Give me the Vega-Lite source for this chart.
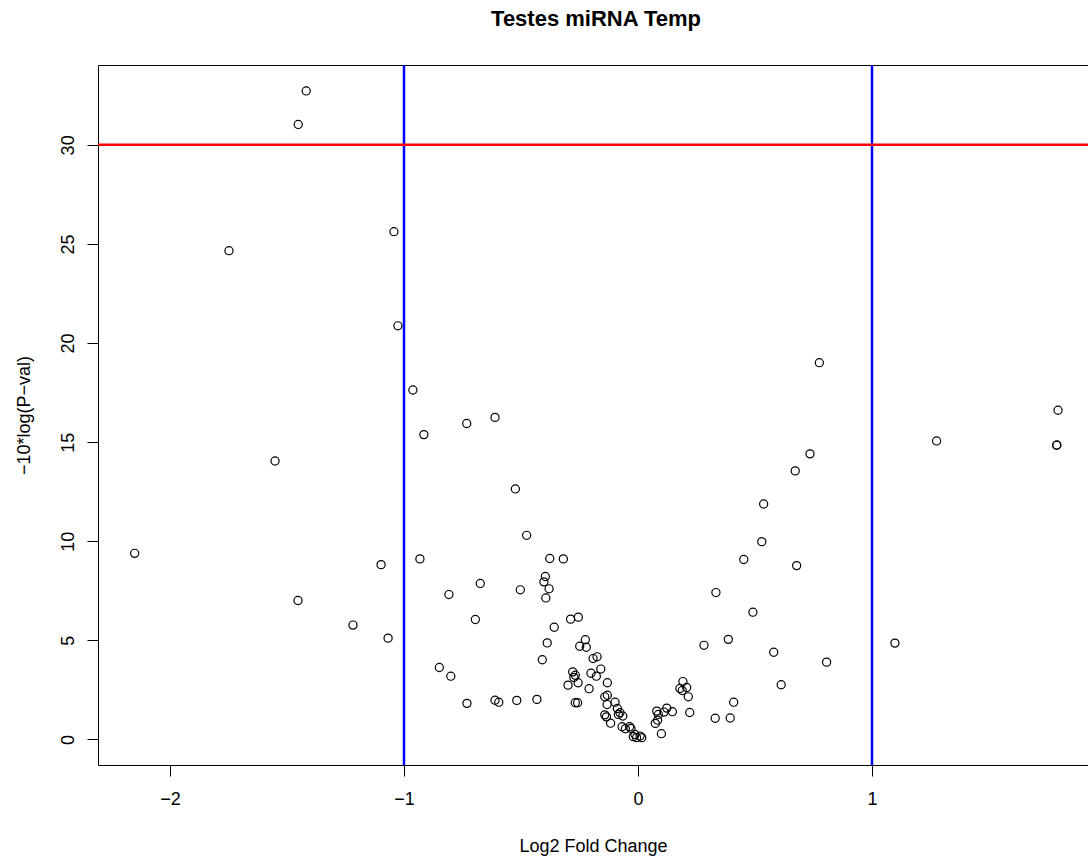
{
  "$schema": "https://vega.github.io/schema/vega-lite/v6.json",
  "autosize": "none",
  "width": 990,
  "height": 700,
  "padding": {"left": 98, "top": 65, "right": 0, "bottom": 96},
  "background": "white",
  "view": {"stroke": null},
  "title": {
    "text": "Testes miRNA Temp",
    "font": "Liberation Sans",
    "fontSize": 22,
    "fontWeight": "bold",
    "color": "black",
    "anchor": "middle",
    "dx": 3,
    "offset": 33
  },
  "config": {
    "axis": {
      "labelFont": "Liberation Sans",
      "titleFont": "Liberation Sans",
      "labelFontSize": 18,
      "titleFontSize": 18,
      "titleFontWeight": "normal",
      "labelColor": "black",
      "titleColor": "black",
      "domainColor": "black",
      "tickColor": "black",
      "domainWidth": 1,
      "tickWidth": 1,
      "grid": false
    }
  },
  "resolve": {"axis": {"x": "independent"}},
  "layer": [
    {
      "data": {
        "values": [
          {"lfc": -1.418, "nlp": 32.72}, {"lfc": -1.452, "nlp": 31.03}, {"lfc": -1.748, "nlp": 24.66},
          {"lfc": -1.043, "nlp": 25.62}, {"lfc": -1.026, "nlp": 20.87}, {"lfc": -0.962, "nlp": 17.63},
          {"lfc": -0.915, "nlp": 15.38}, {"lfc": -1.551, "nlp": 14.05}, {"lfc": -2.151, "nlp": 9.39},
          {"lfc": -1.098, "nlp": 8.82}, {"lfc": -1.453, "nlp": 7.01}, {"lfc": -1.218, "nlp": 5.77},
          {"lfc": -1.068, "nlp": 5.11}, {"lfc": -0.932, "nlp": 9.11}, {"lfc": -0.732, "nlp": 15.94},
          {"lfc": -0.611, "nlp": 16.25}, {"lfc": -0.524, "nlp": 12.64}, {"lfc": -0.476, "nlp": 10.30},
          {"lfc": -0.377, "nlp": 9.13}, {"lfc": -0.319, "nlp": 9.11}, {"lfc": -0.396, "nlp": 8.22},
          {"lfc": -0.402, "nlp": 7.95}, {"lfc": -0.380, "nlp": 7.60}, {"lfc": -0.394, "nlp": 7.14},
          {"lfc": -0.674, "nlp": 7.87}, {"lfc": -0.808, "nlp": 7.31}, {"lfc": -0.503, "nlp": 7.55},
          {"lfc": -0.695, "nlp": 6.05}, {"lfc": -0.288, "nlp": 6.07}, {"lfc": -0.255, "nlp": 6.17},
          {"lfc": -0.358, "nlp": 5.66}, {"lfc": -0.849, "nlp": 3.63}, {"lfc": -0.800, "nlp": 3.19},
          {"lfc": -0.731, "nlp": 1.82}, {"lfc": -0.611, "nlp": 1.98}, {"lfc": -0.595, "nlp": 1.88},
          {"lfc": -0.518, "nlp": 1.97}, {"lfc": -0.388, "nlp": 4.87}, {"lfc": -0.409, "nlp": 4.02},
          {"lfc": -0.225, "nlp": 5.03}, {"lfc": -0.249, "nlp": 4.70}, {"lfc": -0.221, "nlp": 4.65},
          {"lfc": -0.192, "nlp": 4.08}, {"lfc": -0.175, "nlp": 4.17}, {"lfc": -0.159, "nlp": 3.55},
          {"lfc": -0.201, "nlp": 3.34}, {"lfc": -0.178, "nlp": 3.19}, {"lfc": -0.279, "nlp": 3.41},
          {"lfc": -0.268, "nlp": 3.24}, {"lfc": -0.274, "nlp": 3.13}, {"lfc": -0.256, "nlp": 2.86},
          {"lfc": -0.299, "nlp": 2.74}, {"lfc": -0.209, "nlp": 2.56}, {"lfc": -0.131, "nlp": 2.86},
          {"lfc": -0.432, "nlp": 2.02}, {"lfc": -0.268, "nlp": 1.85}, {"lfc": -0.258, "nlp": 1.85},
          {"lfc": -0.142, "nlp": 2.15}, {"lfc": -0.131, "nlp": 2.23}, {"lfc": -0.132, "nlp": 1.76},
          {"lfc": -0.098, "nlp": 1.88}, {"lfc": -0.142, "nlp": 1.24}, {"lfc": -0.135, "nlp": 1.14},
          {"lfc": -0.117, "nlp": 0.82}, {"lfc": -0.088, "nlp": 1.56}, {"lfc": -0.077, "nlp": 1.35},
          {"lfc": -0.065, "nlp": 1.18}, {"lfc": -0.084, "nlp": 1.26}, {"lfc": -0.068, "nlp": 0.64},
          {"lfc": -0.054, "nlp": 0.54}, {"lfc": -0.036, "nlp": 0.64}, {"lfc": -0.020, "nlp": 0.14},
          {"lfc": -0.006, "nlp": 0.09}, {"lfc": 0.009, "nlp": 0.17}, {"lfc": 0.016, "nlp": 0.09},
          {"lfc": -0.013, "nlp": 0.25}, {"lfc": -0.030, "nlp": 0.55}, {"lfc": 0.080, "nlp": 1.43},
          {"lfc": 0.087, "nlp": 1.26}, {"lfc": 0.074, "nlp": 0.81}, {"lfc": 0.084, "nlp": 0.97},
          {"lfc": 0.100, "nlp": 0.29}, {"lfc": 0.111, "nlp": 1.38}, {"lfc": 0.123, "nlp": 1.58},
          {"lfc": 0.147, "nlp": 1.40}, {"lfc": 0.192, "nlp": 2.92}, {"lfc": 0.179, "nlp": 2.57},
          {"lfc": 0.189, "nlp": 2.47}, {"lfc": 0.208, "nlp": 2.62}, {"lfc": 0.215, "nlp": 2.15},
          {"lfc": 0.221, "nlp": 1.36}, {"lfc": 0.282, "nlp": 4.75}, {"lfc": 0.386, "nlp": 5.05},
          {"lfc": 0.409, "nlp": 1.88}, {"lfc": 0.330, "nlp": 1.07}, {"lfc": 0.394, "nlp": 1.08},
          {"lfc": 0.775, "nlp": 19.01}, {"lfc": 0.735, "nlp": 14.41}, {"lfc": 0.672, "nlp": 13.55},
          {"lfc": 0.537, "nlp": 11.88}, {"lfc": 0.529, "nlp": 9.98}, {"lfc": 0.452, "nlp": 9.08},
          {"lfc": 0.678, "nlp": 8.77}, {"lfc": 0.333, "nlp": 7.41}, {"lfc": 0.491, "nlp": 6.42},
          {"lfc": 0.580, "nlp": 4.40}, {"lfc": 0.806, "nlp": 3.90}, {"lfc": 0.612, "nlp": 2.76},
          {"lfc": 1.795, "nlp": 16.61}, {"lfc": 1.276, "nlp": 15.06}, {"lfc": 1.789, "nlp": 14.84},
          {"lfc": 1.790, "nlp": 14.86}, {"lfc": 1.098, "nlp": 4.86}
        ]
      },
      "mark": {"type": "point", "shape": "circle", "filled": false, "stroke": "black", "strokeWidth": 1.2, "size": 66, "opacity": 1},
      "encoding": {
        "x": {
          "field": "lfc", "type": "quantitative",
          "scale": {"domain": [-2.3077, 1.9231], "nice": false, "zero": false},
          "axis": {
            "orient": "bottom", "values": [-2, -1, 0, 1], "format": "d",
            "tickSize": 11, "labelPadding": 14, "labelFlush": false, "labelOverlap": false,
            "title": "Log2 Fold Change", "titlePadding": 29
          }
        },
        "y": {
          "field": "nlp", "type": "quantitative",
          "scale": {"domain": [-1.29, 34.03], "nice": false, "zero": false},
          "axis": {
            "values": [0, 5, 10, 15, 20, 25, 30],
            "tickSize": 11, "labelPadding": 10, "labelAngle": -90, "labelAlign": "center", "labelBaseline": "bottom",
            "labelFlush": false, "labelOverlap": false,
            "title": "−10*log(P−val)", "titlePadding": 26
          }
        }
      }
    },
    {
      "data": {"values": [{"cut": -1}, {"cut": 1}]},
      "mark": {"type": "rule", "color": "#0000FF", "strokeWidth": 2.5},
      "encoding": {
        "x": {
          "field": "cut", "type": "quantitative",
          "axis": {"orient": "top", "labels": false, "ticks": false, "title": null, "domain": true}
        }
      }
    },
    {
      "data": {"values": [{"sig": 30}]},
      "mark": {"type": "rule", "color": "#FF0000", "strokeWidth": 2.5},
      "encoding": {
        "y": {"field": "sig", "type": "quantitative"}
      }
    }
  ]
}
